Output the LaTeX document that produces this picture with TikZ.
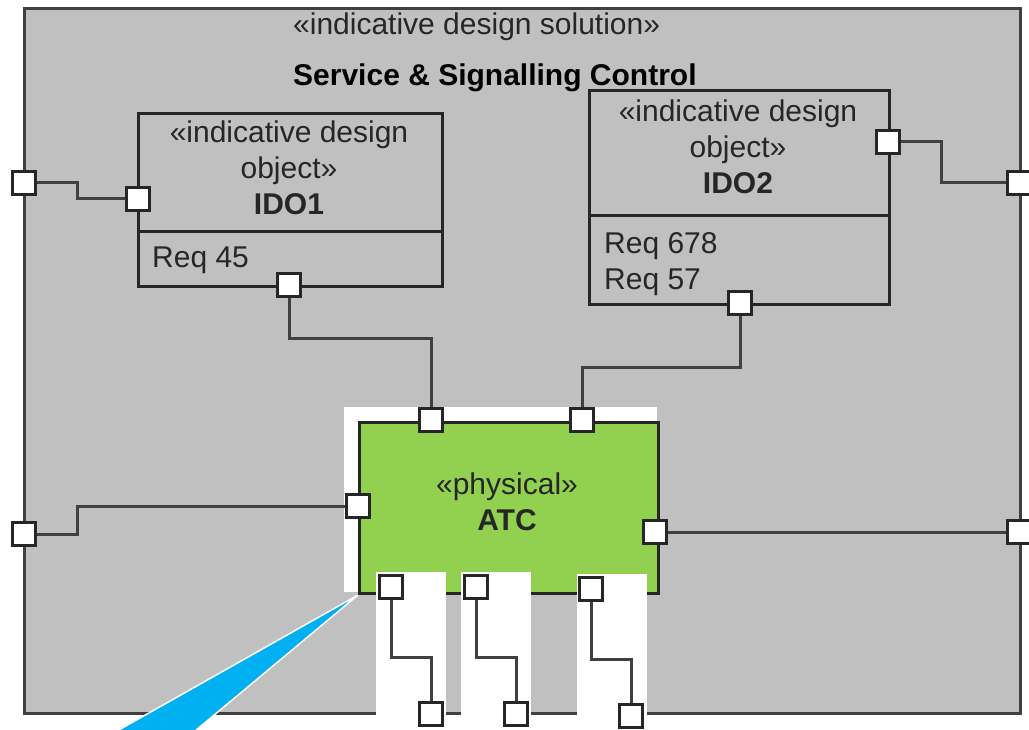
\documentclass[tikz,border=0pt]{standalone}
\usepackage{fontspec}
\setmainfont{Liberation Sans}
\usetikzlibrary{positioning}

\definecolor{framegray}{HTML}{C0C0C0}
\definecolor{atcgreen}{HTML}{92D050}
\definecolor{calloutblue}{HTML}{00B0F0}
\definecolor{linegray}{HTML}{404040}

\tikzset{
  port/.style={draw=black!85, fill=white, line width=3pt, minimum size=23pt, inner sep=0pt},
  wire/.style={draw=linegray, line width=3pt},
  block/.style={draw=black!85, line width=3pt, inner sep=0pt},
  txt/.style={font=\fontsize{30}{36}\selectfont, inner sep=0pt, align=center, text=black!85},
}

\begin{document}
\begin{tikzpicture}[x=1pt, y=-1pt]
  \useasboundingbox (0,0) rectangle (1029,730);
  \fill[white] (0,0) rectangle (1029,730);
  % design solution frame
  \node[block, draw=linegray, fill=framegray, minimum width=996pt, minimum height=705pt, anchor=north west] (sol) at (23,7) {};
  \node[txt, anchor=base west] (solst) at (293,35) {«indicative design solution»};
  \node[txt, anchor=base west, text=black] (soltitle) at (293,86) {\textbf{Service \& Signalling Control}};
  % design objects
  \node[block, minimum width=304pt, minimum height=173pt, anchor=north west] (ido1) at (137,112) {};
  \draw[block] ([yshift=56pt]ido1.south west) -- ([yshift=56pt]ido1.south east);
  \node[txt, anchor=north] (ido1st) at (289,121) {«indicative design\\object»\\\textbf{IDO1}};
  \node[txt, anchor=base west] (ido1req) at (152,268) {Req 45};
  \node[block, minimum width=300pt, minimum height=214pt, anchor=north west] (ido2) at (588,89) {};
  \draw[block] ([yshift=90pt]ido2.south west) -- ([yshift=90pt]ido2.south east);
  \node[txt, anchor=north] (ido2st) at (738,100) {«indicative design\\object»\\\textbf{IDO2}};
  \node[txt, anchor=north west, align=left] (ido2req) at (604,232) {Req 678\\Req 57};
  % physical part
  \fill[white] (344,407) rectangle (657,592);
  \node[block, fill=atcgreen, minimum width=299pt, minimum height=171pt, anchor=north west] (atc) at (358,421) {};
  \node[txt, anchor=north] (atcst) at (507,473) {«physical»\\\textbf{ATC}};
  \foreach \xa/\xb/\ya in {376/446/572, 461/531/572, 577/647/574}
    \fill[white] (\xa,\ya) rectangle (\xb,730);
  % ports
  \node[port] (pL1) at (24,183) {};
  \node[port] (pL2) at (24,534) {};
  \node[port] (pR1) at (1019,183) {};
  \node[port] (pR2) at (1019,532) {};
  \node[port] (pI1L) at (138,199) {};
  \node[port] (pI1B) at (289,285) {};
  \node[port] (pI2R) at (888,142) {};
  \node[port] (pI2B) at (740,303) {};
  \node[port] (pA1) at (431,420) {};
  \node[port] (pA2) at (582,420) {};
  \node[port] (pAL) at (358,506) {};
  \node[port] (pAR) at (655,532) {};
  \node[port] (pB1) at (391,587) {};
  \node[port] (pB2) at (476,587) {};
  \node[port] (pB3) at (591,589) {};
  \node[port] (pE1) at (431,714) {};
  \node[port] (pE2) at (516,714) {};
  \node[port] (pE3) at (631,716) {};
  % connectors
  \draw[wire] (pL1.east) -- ++(40,0) |- (pI1L.west);
  \draw[wire] (pL2.east) -- ++(40,0) |- (pAL.west);
  \draw[wire] (pI2R.east) -- ++(40,0) |- (pR1.west);
  \draw[wire] (pAR.east) -- (pR2.west);
  \draw[wire] (pI1B.south) -- ++(0,41) -| (pA1.north);
  \draw[wire] (pI2B.south) -- ++(0,51) -| (pA2.north);
  \draw[wire] (pB1.south) -- ++(0,57) -| (pE1.north);
  \draw[wire] (pB2.south) -- ++(0,57) -| (pE2.north);
  \draw[wire] (pB3.south) -- ++(0,57) -| (pE3.north);
  % callout pointer
  \filldraw[fill=calloutblue, draw=white, line width=1.5pt] (atc.south west) -- (195,731) -- (117,731) -- cycle;
\end{tikzpicture}
\end{document}
